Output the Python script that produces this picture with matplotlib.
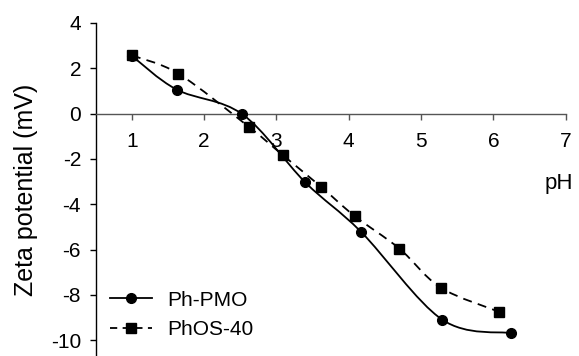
import numpy as np
import matplotlib
matplotlib.use("Agg")
import matplotlib.pyplot as plt
from matplotlib.path import Path
from matplotlib.patches import PathPatch
from matplotlib.lines import Line2D

plt.rcParams['font.family'] = ['Liberation Sans', 'DejaVu Sans']

# Data
pmo_ph = [1.0, 1.62, 2.53, 3.40, 4.17, 5.29, 6.24]
pmo_zeta = [2.55, 1.06, -0.03, -3.04, -5.22, -9.09, -9.69]
phos_ph = [1.0, 1.645, 2.62, 3.09, 3.62, 4.08, 4.70, 5.27, 6.08]
phos_zeta = [2.57, 1.76, -0.59, -1.84, -3.24, -4.52, -5.96, -7.68, -8.75]
series_labels = ["Ph-PMO", "PhOS-40"]
x_ticks = [1, 2, 3, 4, 5, 6, 7]
y_ticks = [-10, -8, -6, -4, -2, 0, 2, 4]


def smooth_path(xs, ys):
    """Excel-like smoothed line: cubic Bezier segments (Catmull-Rom tangents)."""
    P = np.column_stack([xs, ys]).astype(float)
    n = len(P)
    verts = [P[0]]
    codes = [Path.MOVETO]
    for i in range(n - 1):
        p0 = P[i - 1] if i > 0 else P[i]
        p1 = P[i]
        p2 = P[i + 1]
        p3 = P[i + 2] if i + 2 < n else P[i + 1]
        c1 = p1 + (p2 - p0) / 6.0
        c2 = p2 - (p3 - p1) / 6.0
        verts += [c1, c2, p2]
        codes += [Path.CURVE4] * 3
    return Path(verts, codes)


fig = plt.figure(figsize=(5.79, 3.56), dpi=100)
ax = fig.add_axes([95.7 / 579, 0.0, (565.7 - 95.7) / 579, 333 / 356])

ax.set_xlim(0.5, 7)
ax.set_ylim(-10.7, 4)

# curves
ax.add_patch(PathPatch(smooth_path(pmo_ph, pmo_zeta), fill=False, ec='black', lw=1.3, zorder=2))
ax.add_patch(PathPatch(smooth_path(phos_ph, phos_zeta), fill=False, ec='black', lw=1.3,
                       linestyle=(0, (5, 3.5)), zorder=2))
ax.plot(pmo_ph, pmo_zeta, linestyle='none', marker='o', ms=7, color='black', zorder=3)
ax.plot(phos_ph, phos_zeta, linestyle='none', marker='s', ms=6.5, color='black', zorder=4)

# axes styling
for s in ['top', 'right']:
    ax.spines[s].set_visible(False)
ax.spines['bottom'].set_position(('data', 0))
ax.spines['bottom'].set_color('#555555')
ax.spines['left'].set_color('black')
ax.spines['left'].set_linewidth(1.0)
ax.spines['bottom'].set_linewidth(1.0)

ax.set_xticks(x_ticks)
ax.set_yticks(y_ticks)
ax.set_yticklabels([str(v) for v in y_ticks])
ax.tick_params(axis='x', direction='out', length=4, width=1, color='#555555', pad=9, labelsize=15)
ax.tick_params(axis='y', direction='out', length=4.5, width=1, color='black', pad=6, labelsize=15)

ax.set_ylabel("Zeta potential (mV)", fontsize=18, labelpad=9)
ax.text(6.91, -3.1, "pH", fontsize=16, ha='center', va='center')

handles = [
    Line2D([], [], color='black', lw=1.3, marker='o', ms=7),
    Line2D([], [], color='black', lw=1.3, linestyle=(0, (4, 3)), marker='s', ms=6.5),
]
ax.legend(handles, series_labels, loc='lower left', bbox_to_anchor=(110 / 579, 17 / 356),
          bbox_transform=fig.transFigure, frameon=False, fontsize=15,
          handlelength=2.0, handletextpad=0.75, labelspacing=0.5, borderpad=0, borderaxespad=0)

fig.savefig("out.png", dpi=100)
